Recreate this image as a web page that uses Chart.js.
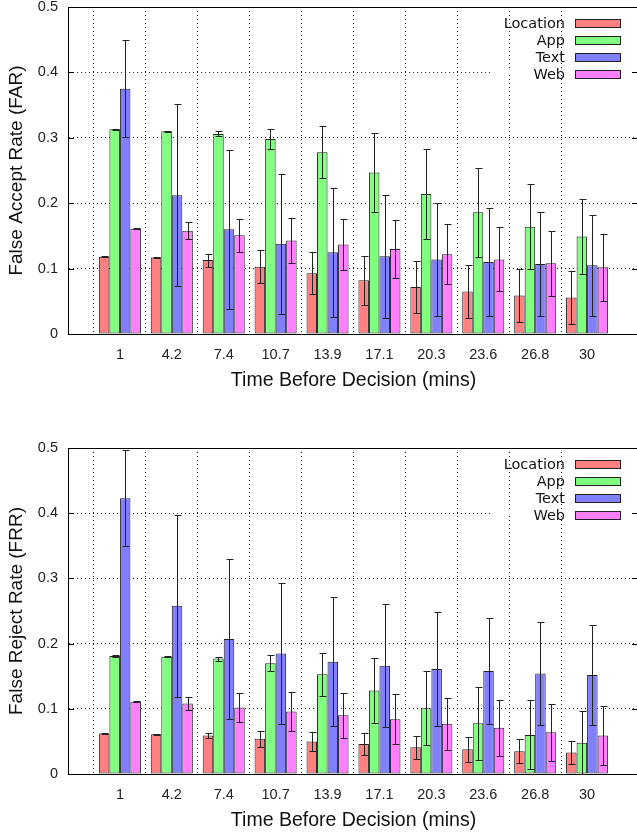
<!DOCTYPE html>
<html>
<head>
<meta charset="utf-8">
<script src="https://cdn.jsdelivr.net/npm/chart.js@4.4.1/dist/chart.umd.min.js"></script>
<style>
  body { margin: 0; background: #fff; overflow: hidden; }
  canvas { position: absolute; left: 0; }
  #farChart { top: 0; }
  #frrChart { top: 416px; }
</style>
</head>
<body>
<canvas id="farChart" width="639" height="416"></canvas>
<canvas id="frrChart" width="639" height="416"></canvas>
<script>
const categories = ["1", "4.2", "7.4", "10.7", "13.9", "17.1", "20.3", "23.6", "26.8", "30"];
const seriesNames = ["Location", "App", "Text", "Web"];
const seriesColors = ["rgb(255,128,128)", "rgb(128,255,128)", "rgb(128,128,255)", "rgb(255,128,255)"];
const yTicks = [0, 0.1, 0.2, 0.3, 0.4, 0.5];

// false accept rate (top)
const farLocation = [0.118, 0.117, 0.113, 0.103, 0.093, 0.082, 0.072, 0.065, 0.059, 0.056];
const farLocationErr = [0.001, 0.001, 0.010, 0.025, 0.032, 0.037, 0.040, 0.040, 0.041, 0.041];
const farApp = [0.313, 0.310, 0.306, 0.298, 0.278, 0.247, 0.214, 0.186, 0.164, 0.149];
const farAppErr = [0.001, 0.001, 0.004, 0.015, 0.040, 0.060, 0.069, 0.068, 0.065, 0.058];
const farText = [0.375, 0.212, 0.160, 0.138, 0.125, 0.119, 0.114, 0.110, 0.107, 0.105];
const farTextErr = [0.074, 0.139, 0.122, 0.107, 0.099, 0.094, 0.087, 0.082, 0.079, 0.077];
const farWeb = [0.161, 0.158, 0.151, 0.143, 0.137, 0.130, 0.122, 0.114, 0.108, 0.102];
const farWebErr = [0.001, 0.013, 0.025, 0.034, 0.039, 0.044, 0.046, 0.049, 0.050, 0.051];

// false reject rate (bottom)
const frrLocation = [0.062, 0.061, 0.059, 0.054, 0.050, 0.046, 0.041, 0.038, 0.035, 0.033];
const frrLocationErr = [0.001, 0.001, 0.004, 0.012, 0.015, 0.017, 0.018, 0.019, 0.018, 0.018];
const frrApp = [0.181, 0.180, 0.177, 0.170, 0.153, 0.128, 0.101, 0.078, 0.060, 0.048];
const frrAppErr = [0.001, 0.001, 0.003, 0.012, 0.033, 0.050, 0.057, 0.056, 0.053, 0.048];
const frrText = [0.423, 0.258, 0.207, 0.185, 0.172, 0.166, 0.161, 0.158, 0.154, 0.152];
const frrTextErr = [0.074, 0.140, 0.122, 0.108, 0.099, 0.094, 0.088, 0.082, 0.079, 0.077];
const frrWeb = [0.111, 0.108, 0.102, 0.096, 0.090, 0.084, 0.077, 0.071, 0.064, 0.059];
const frrWebErr = [0.001, 0.010, 0.022, 0.030, 0.035, 0.038, 0.040, 0.043, 0.044, 0.045];

Chart.defaults.font.family = "'Liberation Sans', Arial, sans-serif";

// empty slot on each side, like the gnuplot xrange
const pad = (arr) => [null, ...arr, null];
const DOTS = "rgba(0,0,0,0.85)";

const errorBars = {
  id: "errorBars",
  afterDatasetsDraw(chart) {
    const ctx = chart.ctx;
    const y = chart.scales.y;
    ctx.save();
    ctx.strokeStyle = "#222";
    ctx.lineWidth = 1;
    chart.data.datasets.forEach((ds, i) => {
      chart.getDatasetMeta(i).data.forEach((bar, j) => {
        const v = ds.data[j];
        if (v == null) return;
        const e = ds.errors[j];
        const x = Math.round(bar.x) + 0.5;
        const top = Math.round(y.getPixelForValue(v + e)) + 0.5;
        const bot = Math.round(y.getPixelForValue(v - e)) + 0.5;
        ctx.beginPath();
        ctx.moveTo(x, top); ctx.lineTo(x, bot);
        ctx.moveTo(x - 3, top); ctx.lineTo(x + 4, top);
        ctx.moveTo(x - 3, bot); ctx.lineTo(x + 4, bot);
        ctx.stroke();
      });
    });
    ctx.restore();
  }
};

const frame = {
  id: "frame",
  beforeDatasetsDraw(chart) {
    // key box hides the 0.4 grid line
    const { ctx, chartArea } = chart;
    const gy = chart.scales.y.getPixelForValue(0.4);
    ctx.save();
    ctx.fillStyle = "#fff";
    ctx.fillRect(chartArea.right - 149, gy - 2, 143, 4);
    ctx.restore();
  },
  afterDraw(chart) {
    const { ctx, chartArea } = chart;
    const y = chart.scales.y;
    ctx.save();
    ctx.strokeStyle = "#000";
    ctx.lineWidth = 1;
    const ty = Math.round(chartArea.top) + 0.5;
    ctx.beginPath();
    ctx.moveTo(chartArea.left, ty);
    ctx.lineTo(chartArea.right, ty);
    ctx.stroke();
    yTicks.slice(1, -1).forEach((t) => {
      const py = Math.round(y.getPixelForValue(t)) + 0.5;
      ctx.beginPath();
      ctx.moveTo(chartArea.left, py);
      ctx.lineTo(chartArea.left + 6, py);
      ctx.moveTo(chartArea.right - 7, py);
      ctx.lineTo(chartArea.right, py);
      ctx.stroke();
    });

    // gnuplot style key: label on the left, swatch on the right
    ctx.font = "14.5px 'DejaVu Sans', sans-serif";
    ctx.textAlign = "right";
    ctx.textBaseline = "middle";
    chart.data.datasets.forEach((ds, i) => {
      const cy = chartArea.top + 16 + i * 17;
      ctx.fillStyle = "#111";
      ctx.fillText(ds.label, chartArea.right - 74, cy + 1);
      ctx.fillStyle = ds.backgroundColor;
      ctx.fillRect(chartArea.right - 64, cy - 4, 46, 8);
      ctx.strokeStyle = "#222";
      ctx.strokeRect(chartArea.right - 63.5, cy - 3.5, 45, 8);
    });
    ctx.restore();
  }
};

function makeChart(id, yTitle, values, errors, topPad, xHeight, xTitlePad) {
  const datasets = seriesNames.map((name, i) => ({
    label: name,
    data: pad(values[i]),
    errors: pad(errors[i]),
    backgroundColor: seriesColors[i],
    borderColor: "#222",
    borderWidth: 1,
    borderSkipped: false,
    barPercentage: 1,
    categoryPercentage: 0.81,
  }));

  return new Chart(document.getElementById(id), {
    type: "bar",
    data: { labels: pad(categories).map((c) => c || ""), datasets: datasets },
    plugins: [errorBars, frame],
    options: {
      responsive: false,
      animation: false,
      layout: { padding: { top: topPad, right: 0, bottom: 0, left: 0 } },
      plugins: { legend: { display: false }, tooltip: { enabled: false } },
      scales: {
        x: {
          offset: false,
          grid: {
            color: (c) => (c.index === 0 || c.index === categories.length + 1 ? "rgba(0,0,0,0)" : DOTS),
            drawTicks: false,
          },
          border: { color: "#000", width: 1, dash: [1, 3] },
          ticks: { autoSkip: false, maxRotation: 0, padding: 12, color: "#222", font: { size: 14.5 } },
          title: {
            display: true,
            text: "Time Before Decision (mins)",
            color: "#111",
            font: { size: 19.5 },
            padding: { top: 0, bottom: xTitlePad },
          },
          afterFit: (s) => { s.height = xHeight; s.paddingLeft = 0; s.paddingRight = 0; },
        },
        y: {
          min: 0,
          max: 0.5,
          afterBuildTicks: (s) => { s.ticks = yTicks.map((v) => ({ value: v })); },
          grid: {
            color: (c) => (c.tick && (c.tick.value === 0 || c.tick.value === 0.5) ? "rgba(0,0,0,0)" : DOTS),
            drawTicks: false,
          },
          border: { color: "#000", width: 1, dash: [1, 3] },
          ticks: {
            padding: 10,
            color: "#222",
            font: { size: 14.5 },
            callback: (v) => (v === 0 ? "0" : v.toFixed(1)),
          },
          title: {
            display: true,
            text: yTitle,
            color: "#111",
            font: { size: 19 },
            padding: { top: 5, bottom: 0 },
          },
          afterFit: (s) => { s.width = 68; s.paddingTop = 0; s.paddingBottom = 0; },
        },
      },
    },
  });
}

makeChart("farChart", "False Accept Rate (FAR)",
  [farLocation, farApp, farText, farWeb],
  [farLocationErr, farAppErr, farTextErr, farWebErr],
  7, 82, 24);

makeChart("frrChart", "False Reject Rate (FRR)",
  [frrLocation, frrApp, frrText, frrWeb],
  [frrLocationErr, frrAppErr, frrTextErr, frrWebErr],
  32, 58, 0);
</script>
</body>
</html>
